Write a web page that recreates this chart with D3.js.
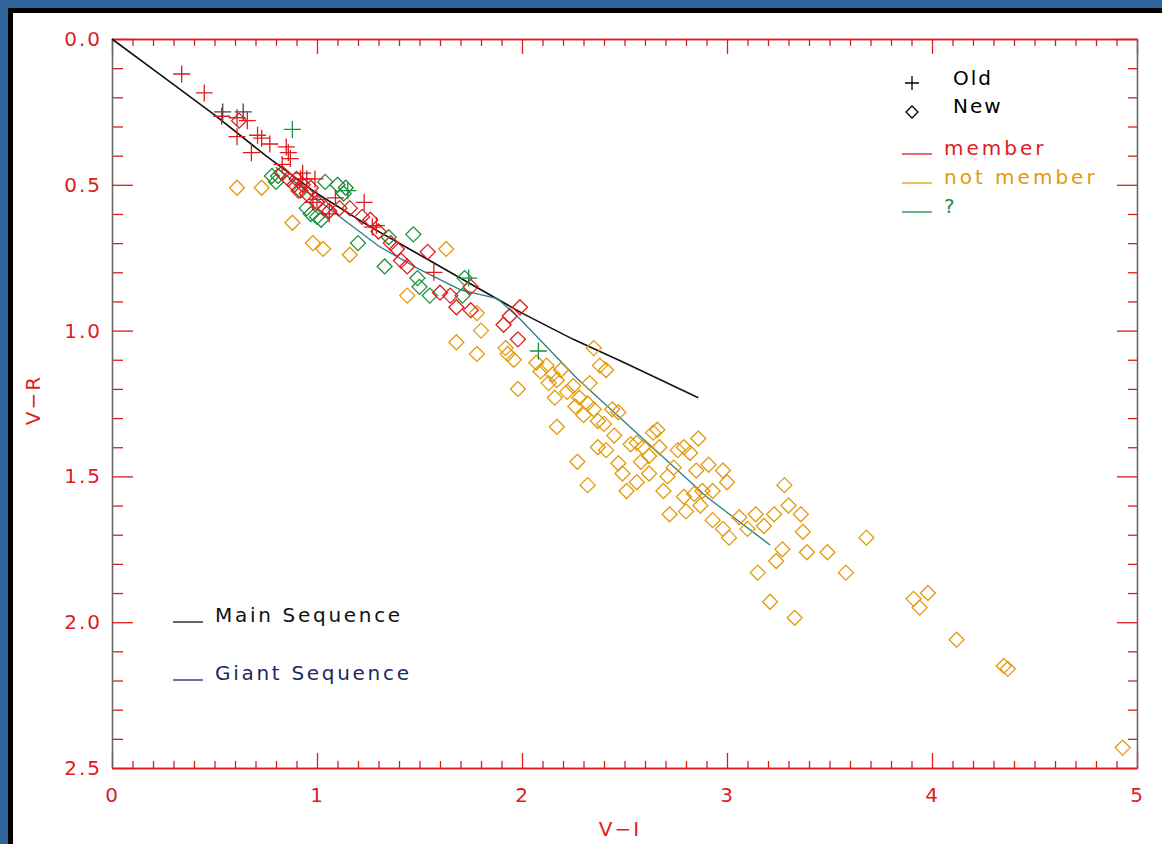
<!DOCTYPE html>
<html>
<head>
<meta charset="utf-8">
<script src="https://cdn.jsdelivr.net/npm/d3@7"></script>
<style>
  body { margin: 0; background: #2f659a; }
  svg { display: block; }
  text { font-family: "DejaVu Sans", sans-serif; }
</style>
</head>
<body>
<div id="chart"></div>
<script>
// Old stars (+)
const oldMember = [
  [0.34,0.12],[0.45,0.185],[0.535,0.265],[0.61,0.27],[0.66,0.28],[0.61,0.335],[0.71,0.33],
  [0.73,0.34],[0.77,0.36],[0.68,0.39],[0.85,0.37],[0.86,0.39],[0.87,0.41],[0.83,0.43],
  [0.92,0.48],[0.95,0.48],[0.99,0.48],[0.93,0.46],[0.98,0.56],[1.0,0.55],[1.09,0.545],
  [1.06,0.60],[1.23,0.56],[1.27,0.645],[1.29,0.64],[1.57,0.80]
];
const oldUnknown = [[0.88,0.31],[1.74,0.82],[2.08,1.07],[1.15,0.52]];
const oldOther = [[0.54,0.25],[0.64,0.25]];

// New stars (diamonds)
const newMember = [
  [0.62,0.28],[0.83,0.46],[0.86,0.48],[0.89,0.50],[0.91,0.52],[0.93,0.50],[0.95,0.53],
  [0.97,0.51],[0.90,0.48],[1.0,0.56],[1.04,0.58],[1.06,0.59],[1.11,0.58],[1.16,0.58],
  [1.22,0.61],[1.26,0.62],[1.30,0.66],[1.36,0.70],[1.39,0.72],[1.41,0.76],[1.44,0.78],
  [1.54,0.73],[1.60,0.87],[1.65,0.88],[1.75,0.85],[1.68,0.92],[1.75,0.93],[1.91,0.98],
  [1.94,0.95],[1.99,0.92],[1.98,1.03]
];
const newNotMember = [
  [0.61,0.51],[0.73,0.51],[0.88,0.63],[0.98,0.70],[1.03,0.72],[1.16,0.74],[1.44,0.88],
  [1.63,0.72],[1.68,1.04],[1.78,0.94],[1.80,1.00],[1.78,1.08],[1.92,1.06],[1.96,1.10],
  [1.98,1.20],[1.93,1.08],[2.07,1.11],[2.12,1.12],[2.15,1.15],[2.17,1.17],[2.19,1.135],
  [2.16,1.23],[2.17,1.33],[2.35,1.06],[2.38,1.12],[2.41,1.135],[2.25,1.19],[2.28,1.23],
  [2.32,1.25],[2.33,1.18],[2.35,1.27],[2.37,1.31],[2.40,1.32],[2.44,1.27],[2.47,1.28],
  [2.27,1.45],[2.32,1.53],[2.37,1.40],[2.41,1.41],[2.47,1.455],[2.49,1.49],[2.53,1.39],
  [2.56,1.385],[2.59,1.40],[2.64,1.35],[2.66,1.34],[2.67,1.40],[2.62,1.43],[2.56,1.52],
  [2.51,1.55],[2.71,1.50],[2.74,1.47],[2.69,1.55],[2.76,1.41],[2.79,1.40],[2.82,1.42],
  [2.86,1.37],[2.85,1.48],[2.79,1.57],[2.84,1.56],[2.72,1.63],[2.87,1.60],[2.88,1.55],
  [2.91,1.46],[2.98,1.48],[3.00,1.52],[2.93,1.55],[3.06,1.64],[2.93,1.65],[2.98,1.68],
  [3.01,1.71],[3.10,1.68],[3.14,1.63],[3.18,1.67],[3.23,1.63],[3.28,1.53],[3.30,1.60],
  [3.36,1.63],[3.37,1.69],[3.39,1.76],[3.27,1.75],[3.24,1.79],[3.49,1.76],[3.58,1.83],
  [3.68,1.71],[3.15,1.83],[3.21,1.93],[3.33,1.985],[3.91,1.92],[3.94,1.95],[3.98,1.90],
  [4.12,2.06],[4.35,2.15],[4.37,2.16],[4.93,2.43],[2.22,1.21],[2.26,1.26],[2.30,1.29],
  [2.45,1.36],[2.58,1.45],[2.62,1.49],[2.09,1.14],[2.13,1.18],[2.80,1.62]
];
const newUnknown = [
  [0.80,0.49],[0.81,0.47],[0.78,0.47],[0.92,0.52],[0.97,0.60],[1.0,0.61],[0.95,0.58],
  [1.04,0.49],[1.10,0.50],[1.14,0.51],[1.13,0.53],[1.20,0.70],[1.33,0.78],[1.35,0.68],
  [1.47,0.67],[1.49,0.82],[1.50,0.85],[1.55,0.88],[1.71,0.88],[1.72,0.82],[1.02,0.62]
];

// sequences
const mainSeq = [[0,0],[0.25,0.13],[0.5,0.26],[0.75,0.40],[1.0,0.53],[1.25,0.64],[1.5,0.74],
  [1.75,0.84],[2.0,0.94],[2.25,1.03],[2.5,1.11],[2.86,1.23]];
const giantSeq = [[0.80,0.44],[1.0,0.55],[1.15,0.63],[1.3,0.71],[1.5,0.79],[1.7,0.86],
  [1.88,0.89],[1.99,0.96],[2.27,1.165],[2.90,1.57],[3.21,1.735]];

const xTicks = [0,1,2,3,4,5];
const yTicks = [0,0.5,1.0,1.5,2.0,2.5];

const RED = "#dd1c1c", ORANGE = "#e39a0c", GREEN = "#1b8f3c", TEAL = "#2c7c8c";

const W = 1162, H = 844;
const svg = d3.select("#chart").append("svg").attr("width", W).attr("height", H);

// frame
svg.append("rect").attr("width", W).attr("height", H).attr("fill", "#2f659a");
svg.append("rect").attr("x", 8).attr("y", 8).attr("width", W - 8).attr("height", H - 8).attr("fill", "#000");
svg.append("rect").attr("x", 13).attr("y", 13).attr("width", W - 13).attr("height", H - 13).attr("fill", "#fff");

const x = d3.scaleLinear().domain([0, 5]).range([112, 1137]);
const y = d3.scaleLinear().domain([0, 2.5]).range([39, 768]);

const minorX = d3.range(0, 5.001, 0.1).filter(v => Math.abs(v - Math.round(v)) > 1e-6);
const minorY = d3.range(0, 2.501, 0.1).filter(v => Math.abs(v * 2 - Math.round(v * 2)) > 1e-6);

function styleAxis(g, domainColor) {
  g.select(".domain").attr("stroke", domainColor).attr("stroke-width", 1.3);
  g.selectAll(".tick line").attr("stroke", RED).attr("stroke-width", 1.3);
  g.selectAll(".tick text").attr("fill", RED).style("font-size", "20px").style("letter-spacing", "2px");
}

// bottom axis
const gb = svg.append("g").attr("transform", `translate(0,${y(2.5)})`);
gb.call(d3.axisBottom(x).tickValues(minorX).tickSize(-7).tickFormat("").tickSizeOuter(0));
styleAxis(gb, RED);
const gb2 = svg.append("g").attr("transform", `translate(0,${y(2.5)})`);
gb2.call(d3.axisBottom(x).tickValues(xTicks).tickSize(-15).tickPadding(20).tickFormat(d3.format("d")).tickSizeOuter(0));
styleAxis(gb2, RED);

// top axis
const gt = svg.append("g").attr("transform", `translate(0,${y(0)})`);
gt.call(d3.axisTop(x).tickValues(minorX).tickSize(-7).tickFormat("").tickSizeOuter(0));
styleAxis(gt, RED);
const gt2 = svg.append("g").attr("transform", `translate(0,${y(0)})`);
gt2.call(d3.axisTop(x).tickValues(xTicks).tickSize(-15).tickFormat("").tickSizeOuter(0));
styleAxis(gt2, RED);

// left axis
const gl = svg.append("g").attr("transform", `translate(${x(0)},0)`);
gl.call(d3.axisLeft(y).tickValues(minorY).tickSize(-11).tickFormat("").tickSizeOuter(0));
styleAxis(gl, "#666");
const gl2 = svg.append("g").attr("transform", `translate(${x(0)},0)`);
gl2.call(d3.axisLeft(y).tickValues(yTicks).tickSize(-21).tickPadding(10).tickFormat(d3.format(".1f")).tickSizeOuter(0));
styleAxis(gl2, "#666");

// right axis
const gr = svg.append("g").attr("transform", `translate(${x(5)},0)`);
gr.call(d3.axisRight(y).tickValues(minorY).tickSize(-9).tickFormat("").tickSizeOuter(0));
styleAxis(gr, "#666");
const gr2 = svg.append("g").attr("transform", `translate(${x(5)},0)`);
gr2.call(d3.axisRight(y).tickValues(yTicks).tickSize(-20).tickFormat("").tickSizeOuter(0));
styleAxis(gr2, "#666");

// axis titles
svg.append("text").attr("x", 620).attr("y", 836).attr("text-anchor", "middle")
  .attr("fill", RED).style("font-size", "20px").style("letter-spacing", "2px").text("V\u2212I");
svg.append("text").attr("transform", "translate(40,400) rotate(-90)").attr("text-anchor", "middle")
  .attr("fill", RED).style("font-size", "20px").style("letter-spacing", "2px").text("V\u2212R");

// sequence lines
const line = d3.line().x(d => x(d[0])).y(d => y(d[1]));
svg.append("path").datum(mainSeq).attr("d", line).attr("fill", "none").attr("stroke", "#111").attr("stroke-width", 1.6);
svg.append("path").datum(giantSeq).attr("d", line).attr("fill", "none").attr("stroke", TEAL).attr("stroke-width", 1.3);

const crossPath = "M-8.5,0H8.5M0,-8.5V8.5";
const diamondPath = "M0,-7.5L7.5,0L0,7.5L-7.5,0Z";

function drawPoints(data, path, color) {
  svg.append("g").selectAll("path").data(data).enter().append("path")
    .attr("d", path)
    .attr("transform", d => `translate(${x(d[0])},${y(d[1])})`)
    .attr("fill", "none").attr("stroke", color).attr("stroke-width", 1.3);
}

drawPoints(newNotMember, diamondPath, ORANGE);
drawPoints(newUnknown, diamondPath, GREEN);
drawPoints(newMember, diamondPath, RED);
drawPoints(oldOther, crossPath, "#444");
drawPoints(oldUnknown, crossPath, GREEN);
drawPoints(oldMember, crossPath, RED);

// legend (top right)
const lg = svg.append("g");
lg.append("path").attr("d", "M-7,0H7M0,-7V7").attr("transform", "translate(912,83)").attr("stroke", "#000").attr("stroke-width", 1.3);
lg.append("path").attr("d", "M0,-6L6,0L0,6L-6,0Z").attr("transform", "translate(912,112)").attr("fill", "none").attr("stroke", "#000").attr("stroke-width", 1.3);
lg.append("text").attr("x", 953).attr("y", 78).attr("dy", "0.35em").style("font-size", "20px").style("letter-spacing", "2px").text("Old");
lg.append("text").attr("x", 953).attr("y", 106).attr("dy", "0.35em").style("font-size", "20px").style("letter-spacing", "2px").text("New");
const legendItems = [["member", RED, 154], ["not member", ORANGE, 183], ["?", GREEN, 212]];
legendItems.forEach(([label, color, ly]) => {
  lg.append("line").attr("x1", 902).attr("x2", 932).attr("y1", ly).attr("y2", ly).attr("stroke", color).attr("stroke-width", 1.3);
  lg.append("text").attr("x", 944).attr("y", ly - 6).attr("dy", "0.35em").attr("fill", color)
    .style("font-size", "20px").style("letter-spacing", "3px").text(label);
});

// legend (bottom left)
const seqItems = [["Main Sequence", "#111", "#111", 622], ["Giant Sequence", "#1b2a5c", "#1b2a5c", 680]];
seqItems.forEach(([label, lc, tc, ly]) => {
  svg.append("line").attr("x1", 173).attr("x2", 203).attr("y1", ly).attr("y2", ly).attr("stroke", lc).attr("stroke-width", 1.3);
  svg.append("text").attr("x", 215).attr("y", ly - 7).attr("dy", "0.35em").attr("fill", tc)
    .style("font-size", "20px").style("letter-spacing", "2.7px").text(label);
});
</script>
</body>
</html>
